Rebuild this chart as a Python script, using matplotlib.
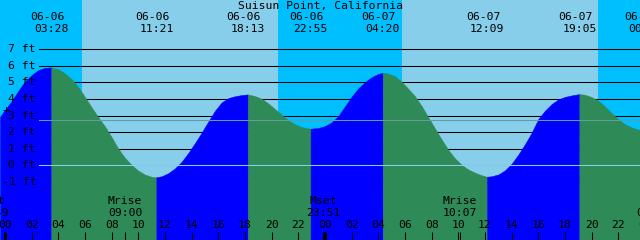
import numpy as np
import matplotlib
matplotlib.use('Agg')
import matplotlib.pyplot as plt
from matplotlib import transforms

# tide curve: hours from 06-06 00:00, height in ft
tide_hours = [-0.375, 0.0, 0.5, 1.0, 1.5, 2.0, 2.5, 3.0, 3.47,
              4.0, 4.5, 5.0, 5.5, 6.0, 6.5, 7.0, 7.5, 8.0, 8.5, 9.0, 9.5, 10.0, 10.5, 11.0, 11.35,
              11.75, 12.25, 12.75, 13.25, 13.75, 14.25, 14.75, 15.25, 15.75, 16.25, 16.75, 17.25,
              17.75, 18.22,
              18.75, 19.25, 19.75, 20.25, 20.75, 21.25, 21.75, 22.25, 22.92,
              23.5, 24.0, 24.5, 25.0, 25.5, 26.0, 26.5, 27.0, 27.5, 28.0, 28.33,
              28.75, 29.25, 29.75, 30.25, 30.75, 31.25, 31.75, 32.25, 32.75, 33.25, 33.75, 34.25,
              34.75, 35.25, 35.75, 36.15,
              36.5, 37.0, 37.5, 38.0, 38.5, 39.0, 39.5, 40.0, 40.5, 41.0, 41.5, 42.0, 42.5, 43.08,
              43.5, 44.0, 44.5, 45.0, 45.5, 46.0, 46.5, 47.0, 47.63]
tide_feet = [2.93, 3.35, 3.88, 4.5, 5.07, 5.45, 5.75, 5.88, 5.91,
             5.8, 5.55, 5.2, 4.72, 4.12, 3.5, 2.9, 2.35, 1.7, 1.0, 0.45, 0.02, -0.32, -0.56, -0.69, -0.72,
             -0.66, -0.47, -0.18, 0.22, 0.75, 1.35, 1.98, 2.65, 3.3, 3.8, 4.06, 4.17,
             4.24, 4.28,
             4.18, 4.02, 3.74, 3.4, 3.05, 2.72, 2.48, 2.31, 2.21,
             2.25, 2.37, 2.6, 2.98, 3.56, 4.15, 4.65, 5.03, 5.32, 5.52, 5.59,
             5.54, 5.38, 5.04, 4.62, 4.17, 3.58, 2.9, 2.23, 1.56, 0.93, 0.42, 0.03,
             -0.25, -0.44, -0.6, -0.69,
             -0.66, -0.55, -0.3, 0.1, 0.65, 1.28, 1.97, 2.8, 3.3, 3.7, 3.98, 4.13, 4.22, 4.30,
             4.26, 4.12, 3.9, 3.55, 3.15, 2.78, 2.48, 2.29, 2.13]

event_dates = ['06-06', '06-06', '06-06', '06-06', '06-07', '06-07', '06-07', '06-08']
event_times = ['03:28', '11:21', '18:13', '22:55', '04:20', '12:09', '19:05', '00:02']

moon_dates = ['06-05', '06-06', '06-06', '06-07', '06-08']
moon_times = ['22:59', '09:00', '23:51', '10:07', '00:38']
moon_names = ['Mset', 'Mrise', 'Mset', 'Mrise', 'Mset']

sun_dates = ['06-06', '06-07']
sunrise = ['05:47', '05:47']
sunset = ['20:28', '20:28']

depths = [-1, 0, 1, 2, 3, 4, 5, 6, 7]
msl = 2.72
now_mark = (0.1, 3.32)

title = 'Suisun Point, California'


def to_hours(date, hm):
    day = int(date.split('-')[1]) - 6
    hh, mm = hm.split(':')
    return day * 24 + int(hh) + int(mm) / 60


W, H = 640, 240
fig = plt.figure(figsize=(6.4, 2.4), dpi=100, facecolor='#00BFFF')
ax = fig.add_axes([0, 0, 1, 1])
x0 = -5 / 13.333
ax.set_xlim(x0, x0 + W / 13.333)
y_top = 165.3 / 16.57
ax.set_ylim(y_top - H / 16.57, y_top)
ax.axis('off')

font = dict(family='DejaVu Sans Mono', size=8.2, color='black')
xtr = ax.get_xaxis_transform()
ytr = ax.get_yaxis_transform()

# daylight
for d, sr, ss in zip(sun_dates, sunrise, sunset):
    ax.axvspan(to_hours(d, sr), to_hours(d, ss), color='#87CEEB', lw=0, zorder=0)

# depth lines behind the water
for d in depths:
    ax.axhline(d, xmin=39 / W, color='black', lw=0.75, zorder=1)

# water: blue while rising, sea green while falling
t = np.array(tide_hours)
h = np.array(tide_feet)
rising = np.diff(h) > 0
bottom = ax.get_ylim()[0]
start = 0
for i in range(1, len(rising) + 1):
    if i == len(rising) or rising[i] != rising[start]:
        col = '#0000FF' if rising[start] else '#2E8B57'
        ax.fill_between(t[start:i + 1], h[start:i + 1], bottom, color=col, lw=0.3, zorder=2)
        start = i

ax.axhline(0, xmin=39 / W, color='#87CEEB', lw=0.75, zorder=3)
ax.axhline(msl, xmin=39 / W, color='#5F9EA0', lw=0.75, zorder=3)

for d in depths:
    ax.text(36 / W, d, f'{d} ft', transform=ytr, ha='right', va='center', zorder=4, **font)
ax.text(now_mark[0], now_mark[1], '+', ha='center', va='center', zorder=4, **font)

fig.text(0.5, 1 - 6 / H, title, ha='center', va='center', **font)

# high / low labels
date_tr = transforms.offset_copy(xtr, fig=fig, x=-4, y=0, units='dots')
for d, tm in zip(event_dates, event_times):
    x = to_hours(d, tm)
    ax.text(x, 1 - 17.5 / H, d, transform=date_tr, ha='center', va='center', zorder=4, **font)
    ax.text(x, 1 - 29.5 / H, tm, transform=xtr, ha='center', va='center', zorder=4, **font)

# hour axis
hours = np.arange(0, 49, 2)
for hr in hours:
    ax.text(hr, 1 - 225.5 / H, f'{hr % 24:02d}', transform=xtr, ha='center', va='center', zorder=4, **font)
midn = hours[hours % 24 == 0]
other = hours[hours % 24 != 0]
ax.vlines(other, 0, 8.3 / H, transform=xtr, colors='black', lw=0.75, zorder=4)
ax.vlines(midn, 0, 8.3 / H, transform=xtr, colors='black', lw=2.2, zorder=4)

# moon events
for d, tm, nm in zip(moon_dates, moon_times, moon_names):
    x = to_hours(d, tm)
    ax.text(x, 1 - 201.5 / H, nm, transform=xtr, ha='center', va='center', zorder=4, **font)
    ax.text(x, 1 - 213.5 / H, tm, transform=xtr, ha='center', va='center', zorder=4, **font)
    ax.vlines(x, 0, 8.3 / H, transform=xtr, colors='black', lw=0.75, zorder=4)

fig.savefig('out.png', dpi=100)
